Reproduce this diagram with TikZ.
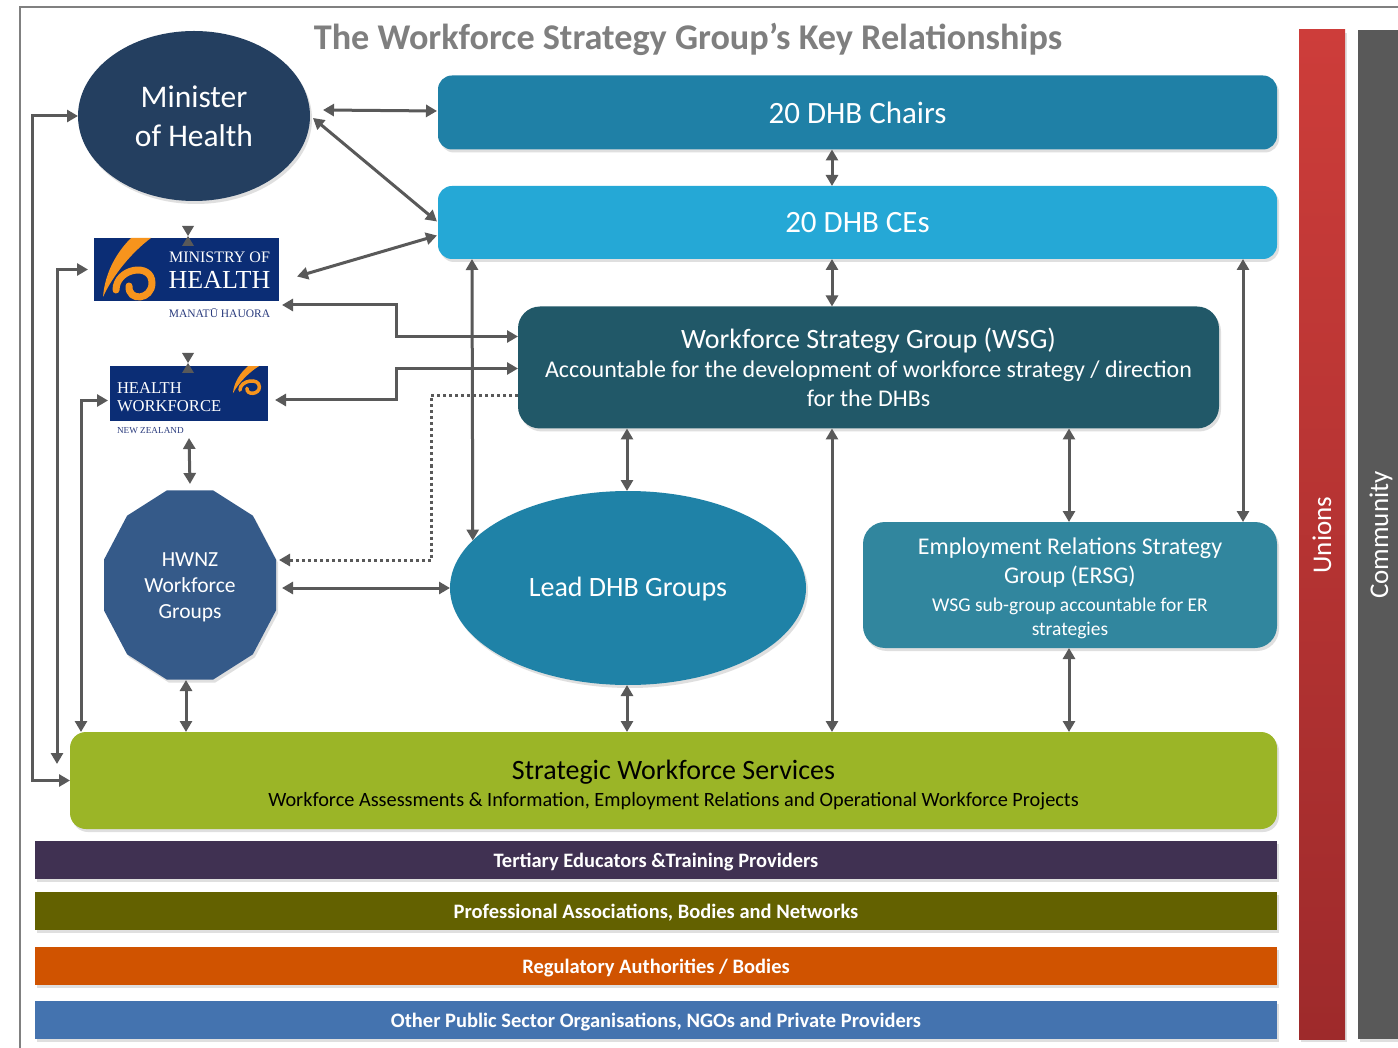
\documentclass[tikz,border=0pt]{standalone}
\usepackage{fontspec}
\setmainfont{Carlito}
\newfontfamily\logofont{Liberation Serif}
\usetikzlibrary{arrows.meta,shadows,calc,shapes.geometric}
\definecolor{cgray}{HTML}{595959}
\definecolor{framegray}{HTML}{808080}
\definecolor{titlegray}{HTML}{7F7F7F}
\definecolor{minfill}{HTML}{243F60}
\definecolor{chairfill}{HTML}{1F80A6}
\definecolor{cefill}{HTML}{25A8D6}
\definecolor{wsgfill}{HTML}{215868}
\definecolor{leadfill}{HTML}{1F82A7}
\definecolor{ersgfill}{HTML}{31869E}
\definecolor{hwfill}{HTML}{355A89}
\definecolor{swsfill}{HTML}{9BB527}
\definecolor{tertfill}{HTML}{403152}
\definecolor{proffill}{HTML}{636100}
\definecolor{regfill}{HTML}{D05300}
\definecolor{othfill}{HTML}{4473AF}
\definecolor{unitop}{HTML}{CD3D3A}
\definecolor{unibot}{HTML}{9E2A2B}
\definecolor{commfill}{HTML}{595959}
\definecolor{logoblue}{HTML}{0B2D75}
\definecolor{logotext}{HTML}{2B3C7E}
\definecolor{koruorange}{HTML}{F7941D}
\newcommand{\drawkoru}[1]{%
  \fill[koruorange] (1,-30) -- (21,-30) .. controls (2,-16) and (-17,7) .. (-27,29) .. controls (-25,4) and (-13,-16) .. (1,-30) -- cycle;
  \draw[koruorange, line width=#1, line cap=round] (-14,22) .. controls (-14,0) and (22,-6) .. (22,15) .. controls (22,32) and (-2,34) .. (-1,18);
}
\newcommand{\drawbowtie}[1]{%
  \fill[cgray] ($(#1)+(-6,-10)$) -- ($(#1)+(6,-10)$) -- (#1) -- cycle;
  \fill[cgray] ($(#1)+(-6,10)$) -- ($(#1)+(6,10)$) -- (#1) -- cycle;
}
\tikzset{
  >={Triangle[length=11pt,width=12pt]},
  myshadow/.style={drop shadow={opacity=0.25,shadow xshift=2pt,shadow yshift=-3pt}},
  box/.style={rectangle, rounded corners=#1, outer sep=0pt, inner sep=0pt, text=white, align=center, myshadow},
  box/.default=14pt,
  oval/.style={ellipse, outer sep=0pt, inner sep=0pt, text=white, align=center, myshadow},
  txt/.style={inner sep=0pt, outer sep=0pt, align=center},
  bar/.style={rectangle, fill=#1, minimum width=1242pt, minimum height=38pt, outer sep=0pt, inner sep=0pt, text=white, font=\bfseries\fontsize{20.5}{24}\selectfont, text height=15pt, text depth=0pt, myshadow},
  vbar/.style={rectangle, minimum width=46pt, minimum height=1009pt, outer sep=0pt, inner sep=0pt, myshadow},
  vtext/.style={rotate=90, text=white, font=\fontsize{27}{30}\selectfont, inner sep=0pt},
  logo/.style={rectangle, fill=logoblue, outer sep=0pt, inner sep=0pt},
  logotxt/.style={inner sep=0pt, outer sep=0pt, text=white},
  conn/.style={draw=cgray, line width=3pt},
  dotconn/.style={draw=cgray, line width=3pt, dash pattern=on 3pt off 3pt}
}
\begin{document}
\begin{tikzpicture}[x=1pt,y=-1pt]
\useasboundingbox (0,0) rectangle (1398,1048);
\fill[white] (0,0) rectangle (1398,1048);
\draw[framegray, line width=2pt] (20,1048) -- (20,7) -- (1398,7);

\node[font=\bfseries\fontsize{36.2}{40}\selectfont, text=titlegray, inner sep=0pt] (title) at (688,39) {The Workforce Strategy Group’s Key Relationships};

% vertical bars
\node[vbar, top color=unitop, bottom color=unibot] (unions) at (1322,534.5) {};
\node[vtext] (unionsT) at (1322,535) {Unions};
\node[vbar, fill=commfill] (comm) at (1381,534.5) {};
\node[vtext] (commT) at (1381,535) {Community};

% main boxes
\node[oval, fill=minfill, minimum width=232pt, minimum height=170pt, font=\fontsize{31.5}{39}\selectfont] (min) at (194,116) {Minister\\of Health};
\node[box, fill=chairfill, minimum width=839pt, minimum height=74pt, font=\fontsize{31}{36}\selectfont] (chairs) at (857.5,112.5) {20 DHB Chairs};
\node[box, fill=cefill, minimum width=839pt, minimum height=73pt, font=\fontsize{31}{36}\selectfont] (ces) at (857.5,222.5) {20 DHB CEs};
\node[box=22pt, fill=wsgfill, minimum width=701pt, minimum height=122pt, font=\fontsize{24}{29}\selectfont] (wsg) at (868.5,367.5) {{\fontsize{28}{31}\selectfont Workforce Strategy Group (WSG)}\\ Accountable for the development of workforce strategy / direction\\ for the DHBs};
\node[oval, fill=leadfill, minimum width=356pt, minimum height=194pt] (lead) at (628,588) {};
\node[txt, text=white, font=\fontsize{28}{32}\selectfont] (leadT) at (628,589.5) {Lead DHB Groups};
\node[box=22pt, fill=ersgfill, minimum width=414pt, minimum height=126pt] (ersg) at (1070,585) {};
\node[txt, text=white, font=\fontsize{24}{29}\selectfont] (ersgT) at (1070,588) {Employment Relations Strategy\\ Group (ERSG)\\[-1pt] {\fontsize{19.5}{24}\selectfont WSG sub-group accountable for ER}\\[-5pt] {\fontsize{19.5}{24}\selectfont strategies}};

% HWNZ polygon
\fill[hwfill, myshadow, shift={(190,585)}] (86,-25.4) -- (62.9,-69.3) -- (23,-94.7) -- (-23,-94.7) -- (-62.9,-69.3) -- (-86,-25.4) -- (-86,25.4) -- (-62.9,69.3) -- (-23,94.7) -- (23,94.7) -- (62.9,69.3) -- (86,25.4) -- cycle;
\node[rectangle, minimum width=172pt, minimum height=190pt, inner sep=0pt, outer sep=0pt] (hwnz) at (190,585) {};
\node[txt, text=white, font=\fontsize{21.5}{26}\selectfont] (hwnzT) at (190,587) {HWNZ\\Workforce\\Groups};

\node[box=16pt, fill=swsfill, minimum width=1207pt, minimum height=97pt] (sws) at (673.5,780.5) {};
\node[txt, text=black, font=\fontsize{20.3}{24}\selectfont] (swsT) at (673.5,785) {{\fontsize{28}{31}\selectfont Strategic Workforce Services}\\[3pt] Workforce Assessments \& Information, Employment Relations and Operational Workforce Projects};

% bottom bars
\node[bar=tertfill] (tert) at (656,859.5) {Tertiary Educators \&Training Providers};
\node[bar=proffill] (prof) at (656,910.5) {Professional Associations, Bodies and Networks};
\node[bar=regfill] (reg) at (656,965.5) {Regulatory Authorities / Bodies};
\node[bar=othfill] (oth) at (656,1020) {Other Public Sector Organisations, NGOs and Private Providers};

% logos
\node[logo, minimum width=185pt, minimum height=63pt] (moh) at (186.5,269.5) {};
\node[logotxt, font=\logofont\fontsize{16}{16}\selectfont] (mohA) at (219.5,257) {MINISTRY OF};
\node[logotxt, font=\logofont\fontsize{26}{26}\selectfont] (mohB) at (219.5,280) {HEALTH};
\node[logotxt, text=logotext, font=\logofont\fontsize{11.5}{11.5}\selectfont] (mohC) at (219.5,313.5) {MANATŪ HAUORA};
\begin{scope}[shift={(130,268)}]
  \drawkoru{7pt}
\end{scope}

\node[logo, minimum width=158pt, minimum height=55pt] (hw) at (189,393.5) {};
\node[logotxt, anchor=west, font=\logofont\fontsize{16.6}{16.6}\selectfont] (hwA) at (117,388.5) {HEALTH};
\node[logotxt, anchor=west, font=\logofont\fontsize{16.6}{16.6}\selectfont] (hwB) at (117,406) {WORKFORCE};
\node[logotxt, anchor=west, text=logotext, font=\logofont\fontsize{9.2}{9.2}\selectfont] (hwC) at (117,431) {NEW ZEALAND};
\begin{scope}[shift={(247.5,380)}, xscale=0.54, yscale=0.46]
  \drawkoru{3.5pt}
\end{scope}

\coordinate (bt1) at ($(moh.north)+(1.5,-2)$);
\coordinate (bt2) at ($(hw.north)+(-1,-3)$);
\drawbowtie{bt1}
\drawbowtie{bt2}

% connector helper coordinates
\coordinate (xA) at (832,0);
\coordinate (xB) at (472,0);
\coordinate (xC) at (627,0);
\coordinate (xD) at (1069,0);
\coordinate (xE) at (1243,0);
\coordinate (xG) at (186,0);
\coordinate (x32) at (32,0);
\coordinate (x57) at (57,0);
\coordinate (x81) at (81,0);
\coordinate (e1) at (396,0);
\coordinate (e2) at (431,0);
\coordinate (q1) at ($(wsg.west)+(0,-31)$);
\coordinate (q2) at ($(wsg.west)+(0,1)$);
\coordinate (q3) at ($(wsg.west)+(0,28)$);
\coordinate (p1) at ($(moh.south east)+(3,4)$);
\coordinate (p2) at ($(hw.east)+(7,6.5)$);
\coordinate (p3) at ($(hwnz.east)+(3,-25)$);
\coordinate (p4) at ($(moh.west)+(-6,0)$);
\coordinate (p5) at ($(sws.north west)+(-12,32)$);
\coordinate (p6) at ($(hw.west)+(-2,7)$);

% connectors
\draw[conn,<->] ($(min.east)+(13,-6)$) -- ($(chairs.west)+(-1,-1.5)$);
\draw[conn,<->] ($(min.east)+(3,2)$) -- ($(ces.west)+(-1,-1)$);
\draw[conn,<->] ($(moh.east)+(18,7)$) -- ($(ces.west)+(-1,13)$);
\draw[conn,<->] (chairs.south -| xA) -- (ces.north -| xA);
\draw[conn,<->] (ces.south -| xA) -- (wsg.north -| xA);
\draw[conn,<->] (ces.south -| xB) -- (lead.163);
\draw[conn,<->] (ces.south -| xE) -- (ersg.north -| xE);
\draw[conn,<->] (wsg.south -| xC) -- (lead.north -| xC);
\draw[conn,<->] (lead.south -| xC) -- (sws.north -| xC);
\draw[conn,<->] (wsg.south -| xA) -- (sws.north -| xA);
\draw[conn,<->] (wsg.south -| xD) -- (ersg.north -| xD);
\draw[conn,<->] (ersg.south -| xD) -- (sws.north -| xD);
\draw[conn,<->] ($(hwnz.east)+(6,3)$) -- (lead.west);
\draw[conn,<->] ($(hw.south)+(0,17)$) -- ($(hwnz.north)+(0,-6)$);
\draw[conn,<->] (hwnz.south -| xG) -- (sws.north -| xG);
\draw[conn,<->] (p1) -- (p1 -| e1) -- (e1 |- q1) -- (q1);
\draw[conn,<->] (p2) -- (p2 -| e1) -- (e1 |- q2) -- (q2);
\draw[dotconn,->] (q3) -- (q3 -| e2) -- (e2 |- p3) -- (p3);
\draw[conn,<->] (sws.west) -- (sws.west -| x32) -- (x32 |- min.west) -- (min.west);
\draw[conn,<->] (p4) -- (p4 -| x57) -- (x57 |- p5);
\draw[conn,<->] (p6) -- (p6 -| x81) -- (sws.north -| x81);
\end{tikzpicture}
\end{document}
